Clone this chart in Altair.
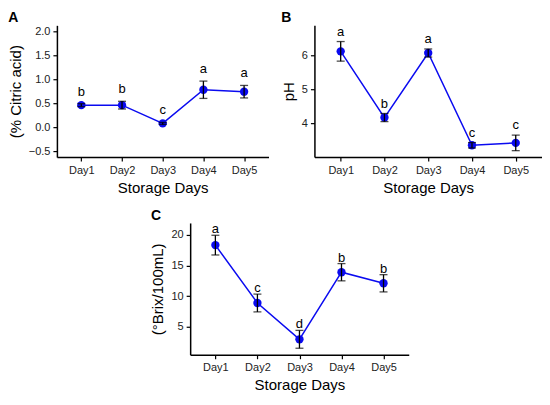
import altair as alt
import pandas as pd

days = ["Day1", "Day2", "Day3", "Day4", "Day5"]

acid_mean = [0.46, 0.46, 0.08, 0.78, 0.74]
acid_sd = [0.03, 0.08, 0.02, 0.18, 0.13]
acid_letters = ["b", "b", "c", "a", "a"]

ph_mean = [6.13, 4.17, 6.08, 3.35, 3.42]
ph_sd = [0.29, 0.12, 0.12, 0.08, 0.23]
ph_letters = ["a", "b", "a", "c", "c"]

brix_mean = [18.3, 8.9, 3.0, 13.9, 12.1]
brix_sd = [1.6, 1.45, 1.45, 1.4, 1.4]
brix_letters = ["a", "c", "d", "b", "b"]

FONT = "Liberation Sans"
BLUE = "#0a0af0"


def panel(mean, sd, letters, letter_tag, ytitle, domain, ticks, fmt, width, dy):
    df = pd.DataFrame({
        "day": days,
        "mean": mean,
        "sd": sd,
        "letter": letters,
    })
    df["lo"] = df["mean"] - df["sd"]
    df["hi"] = df["mean"] + df["sd"]
    base = alt.Chart(df)
    xscale = alt.Scale(type="point", padding=0.6)
    xaxis = alt.Axis(title="Storage Days", labelAngle=0)
    yscale = alt.Scale(domain=domain, nice=False, zero=False)
    yaxis = alt.Axis(title=ytitle, values=ticks, format=fmt, labelOverlap=False)

    def X():
        return alt.X("day:N", scale=xscale, axis=xaxis)

    def Y(field):
        return alt.Y(field, scale=yscale, axis=yaxis)

    line = base.mark_line(color=BLUE, strokeWidth=1.5).encode(x=X(), y=Y("mean:Q"))
    pts = base.mark_point(filled=True, color=BLUE, size=70, opacity=1).encode(
        x=X(), y=Y("mean:Q"))
    rule = base.mark_rule(color="black", strokeWidth=1.3).encode(
        x=X(), y=Y("lo:Q"), y2="hi:Q")
    cap_hi = base.mark_tick(color="black", orient="horizontal", size=8, thickness=1.3).encode(
        x=X(), y=Y("hi:Q"))
    cap_lo = base.mark_tick(color="black", orient="horizontal", size=8, thickness=1.3).encode(
        x=X(), y=Y("lo:Q"))
    txt = base.mark_text(font=FONT, fontSize=13, color="black", baseline="middle", dy=dy).encode(
        x=X(), y=Y("hi:Q"), text="letter:N")
    return alt.layer(line, pts, rule, cap_hi, cap_lo, txt).properties(
        width=width, height=132,
        title=alt.TitleParams(text=letter_tag, anchor="start", frame="bounds",
                              fontSize=14, fontWeight="bold", font=FONT, offset=0, color="black"))


a = panel(acid_mean, acid_sd, acid_letters, "A", "(% Citric acid)", [-0.62, 2.12],
          [-0.5, 0.0, 0.5, 1.0, 1.5, 2.0], ".1f", 212, -12)
b = panel(ph_mean, ph_sd, ph_letters, "B", "pH", [3.0, 6.9], [4, 5, 6], "d", 228, -10)
c = panel(brix_mean, brix_sd, brix_letters, "C", "(°Brix/100mL)", [0.5, 21.9],
          [5, 10, 15, 20], "d", 219, -6)

chart = alt.vconcat(alt.hconcat(a, b, spacing=12), c, spacing=14, center=True).properties(
    padding={"left": 0, "top": 2, "right": 0, "bottom": 0}
).configure_view(stroke=None).configure_axis(
    grid=False, domainColor="black", domainWidth=1.5, tickColor="black", tickWidth=1.2,
    tickSize=4, labelFont=FONT, labelFontSize=11, labelColor="#222", labelPadding=3,
    titleFont=FONT, titleFontSize=15, titleFontWeight="normal", titleColor="black",
    titlePadding=5, labelOverlap=False
)

chart.save("out.html", embed_options={"renderer": "svg", "actions": False})
